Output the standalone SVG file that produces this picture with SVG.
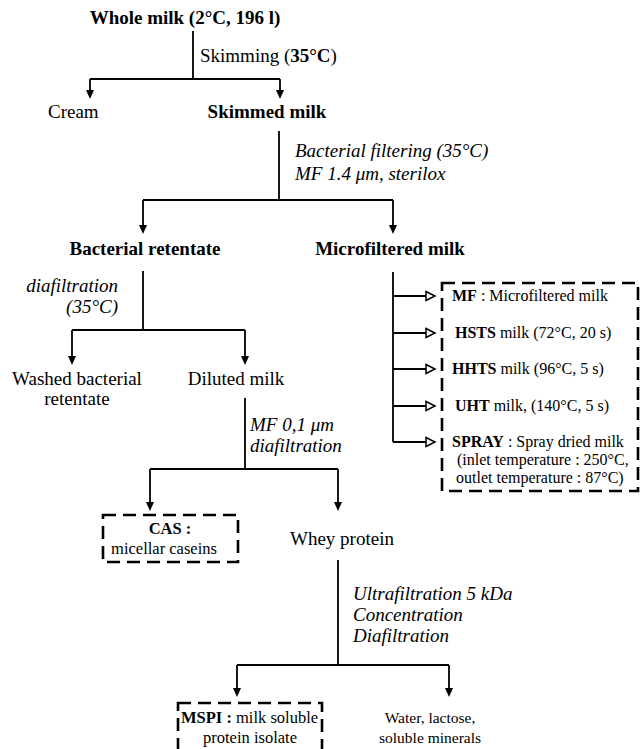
<svg xmlns="http://www.w3.org/2000/svg" width="643" height="749" viewBox="0 0 643 749">
<style>
text{font-family:"Liberation Serif","Times New Roman",serif;fill:#000}
.t{font-size:19px}
.s{font-size:16.5px}
.r{font-size:16px}
.w{font-size:15.5px}
.b{font-weight:bold}
.i{font-style:italic}
.m{text-anchor:middle}
.e{text-anchor:end}
.c{fill:none;stroke:#000;stroke-width:1.8}
.box{fill:none;stroke:#000;stroke-width:2.6;stroke-dasharray:13,7}
.oa{fill:#fff;stroke:#000;stroke-width:1.5}
</style>
<rect width="643" height="749" fill="#fff"/>
<g id="connectors">
<path class="c" d="M193,31 V79 M90,79 H280 M90,79 V90 M280,79 V90"/>
<path d="M86,90 L94,90 L90,99 Z"/>
<path d="M276,90 L284,90 L280,99 Z"/>
<path class="c" d="M279,131 V200 M143,200 H393 M143,200 V225 M393,200 V225"/>
<path d="M139,225 L147,225 L143,234 Z"/>
<path d="M389,225 L397,225 L393,234 Z"/>
<path class="c" d="M143,271 V330 M72,330 H245 M72,330 V356 M245,330 V356"/>
<path d="M68,356 L76,356 L72,365 Z"/>
<path d="M241,356 L249,356 L245,365 Z"/>
<path class="c" d="M245,398 V469 M150,469 H338 M150,469 V502 M338,469 V502"/>
<path d="M146,502 L154,502 L150,511 Z"/>
<path d="M334,502 L342,502 L338,511 Z"/>
<path class="c" d="M338,560 V665 M237,665 H449 M237,665 V688 M449,665 V688"/>
<path d="M233,688 L241,688 L237,697 Z"/>
<path d="M445,688 L453,688 L449,697 Z"/>
<path class="c" d="M393,272 V442 M393,296 H426 M393,333 H426 M393,369 H426 M393,406 H426 M393,442 H426"/>
<path class="oa" d="M426,291.5 L435,296 L426,300.5 Z"/>
<path class="oa" d="M426,328.5 L435,333 L426,337.5 Z"/>
<path class="oa" d="M426,364.5 L435,369 L426,373.5 Z"/>
<path class="oa" d="M426,401.5 L435,406 L426,410.5 Z"/>
<path class="oa" d="M426,437.5 L435,442 L426,446.5 Z"/>
</g>
<g id="whole-milk"><text class="t b m" x="185" y="24">Whole milk (2°C, 196 l)</text></g>
<g id="skimming-label"><text class="t" x="200" y="62">Skimming (<tspan class="b">35°C</tspan>)</text></g>
<g id="cream"><text class="t" x="48" y="118">Cream</text></g>
<g id="skimmed-milk"><text class="t b m" x="267" y="118">Skimmed milk</text></g>
<g id="bacterial-filtering-label">
<text class="t i" x="295" y="157">Bacterial filtering (35°C)</text>
<text class="t i" x="295" y="180">MF 1.4 μm, sterilox</text>
</g>
<g id="bacterial-retentate"><text class="t b m" x="145" y="255">Bacterial retentate</text></g>
<g id="microfiltered-milk"><text class="t b m" x="390" y="255">Microfiltered milk</text></g>
<g id="diafiltration-label">
<text class="t i e" x="118" y="292">diafiltration</text>
<text class="t i e" x="118" y="313">(35°C)</text>
</g>
<g id="washed-retentate">
<text class="t m" x="77" y="385">Washed bacterial</text>
<text class="t m" x="77" y="405">retentate</text>
</g>
<g id="diluted-milk"><text class="t m" x="236" y="385">Diluted milk</text></g>
<g id="mf01-label">
<text class="t i" x="250" y="431">MF 0,1 μm</text>
<text class="t i" x="250" y="452">diafiltration</text>
</g>
<g id="cas">
<rect class="box" x="103" y="515" width="135" height="47"/>
<text class="s b m" x="170" y="534">CAS :</text>
<text class="s m" x="164" y="554">micellar caseins</text>
</g>
<g id="whey-protein"><text class="t" x="290" y="545">Whey protein</text></g>
<g id="uf-label">
<text class="t i" x="353" y="600">Ultrafiltration 5 kDa</text>
<text class="t i" x="353" y="621">Concentration</text>
<text class="t i" x="353" y="642">Diafiltration</text>
</g>
<g id="mspi">
<rect class="box" x="178" y="703" width="144" height="60"/>
<text class="s" x="181" y="723"><tspan class="b">MSPI :</tspan> milk soluble</text>
<text class="s m" x="250" y="743">protein isolate</text>
</g>
<g id="water">
<text class="w m" x="430" y="723">Water, lactose,</text>
<text class="w m" x="430" y="743">soluble minerals</text>
</g>
<g id="products">
<rect class="box" x="442" y="283" width="196" height="208"/>
<text class="r" x="452" y="301"><tspan class="b">MF</tspan> : Microfiltered milk</text>
<text class="r" x="455" y="338"><tspan class="b">HSTS</tspan> milk (72°C, 20 s)</text>
<text class="r" x="452" y="374"><tspan class="b">HHTS</tspan> milk (96°C, 5 s)</text>
<text class="r" x="455" y="411"><tspan class="b">UHT</tspan> milk, (140°C, 5 s)</text>
<text class="r" x="452" y="447"><tspan class="b">SPRAY</tspan> : Spray dried milk</text>
<text class="r" x="457" y="465">(inlet temperature : 250°C,</text>
<text class="r" x="456" y="483">outlet temperature : 87°C)</text>
</g>
</svg>
